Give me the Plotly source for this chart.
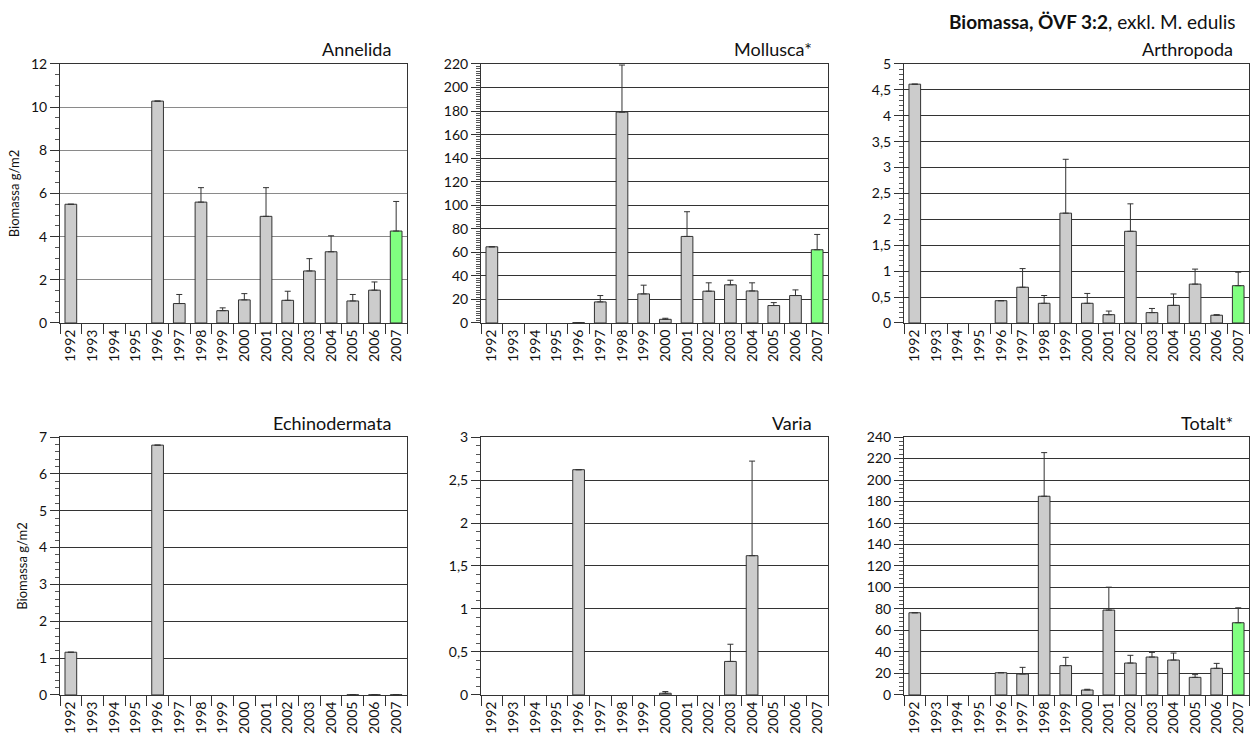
import plotly.graph_objects as go

years = [str(y) for y in range(1992, 2008)]

annelida = [5.50, None, None, None, 10.28, 0.90, 5.60, 0.57, 1.07, 4.94, 1.05, 2.41, 3.30, 1.02, 1.52, 4.26]
annelida_err = [0, 0, 0, 0, 0, 0.42, 0.67, 0.13, 0.29, 1.33, 0.42, 0.57, 0.74, 0.30, 0.38, 1.37]

mollusca = [64.7, None, None, None, 0.3, 17.9, 179.1, 24.7, 3.1, 73.5, 27.0, 32.4, 27.2, 14.8, 23.3, 62.2]
mollusca_err = [0, 0, 0, 0, 0, 5.4, 40.0, 7.4, 0.9, 21.0, 7.1, 3.9, 6.9, 2.5, 4.8, 13.0]

arthropoda = [4.61, None, None, None, 0.43, 0.69, 0.38, 2.12, 0.38, 0.16, 1.77, 0.20, 0.34, 0.75, 0.15, 0.72]
arthropoda_err = [0, 0, 0, 0, 0, 0.36, 0.15, 1.04, 0.19, 0.07, 0.53, 0.08, 0.22, 0.29, 0.01, 0.26]

echinodermata = [1.16, None, None, None, 6.78, None, None, None, None, None, None, None, None, 0.005, 0.005, 0.005]
echinodermata_err = [0, 0, 0, 0, 0, 0, 0, 0, 0, 0, 0, 0, 0, 0.005, 0.005, 0.005]

varia = [None, None, None, None, 2.62, None, None, None, 0.02, None, None, 0.39, 1.62, None, None, None]
varia_err = [0, 0, 0, 0, 0, 0, 0, 0, 0.02, 0, 0, 0.20, 1.10, 0, 0, 0]

totalt = [76.5, None, None, None, 20.7, 19.5, 184.9, 27.3, 4.6, 79.0, 29.7, 35.3, 32.5, 16.4, 24.8, 67.2]
totalt_err = [0, 0, 0, 0, 0, 6.2, 40.6, 7.7, 0.7, 21.3, 7.2, 4.3, 6.5, 2.5, 4.6, 13.9]

panels = [
    # title, values, err, ymax, dtick, minor dtick, x-domain, y-domain, ylabel
    ("Annelida", annelida, annelida_err, 12, 2, 0.5, (0.048, 0.3256), (0.5659, 0.914), True),
    ("Mollusca*", mollusca, mollusca_err, 220, 20, 2, (0.3848, 0.6624), (0.5659, 0.914), False),
    ("Arthropoda", arthropoda, arthropoda_err, 5, 0.5, 0.1, (0.7232, 0.9992), (0.5659, 0.914), False),
    ("Echinodermata", echinodermata, echinodermata_err, 7, 1, 0.2, (0.048, 0.3256), (0.0659, 0.4126), True),
    ("Varia", varia, varia_err, 3, 0.5, 0.1, (0.3848, 0.6624), (0.0659, 0.4126), False),
    ("Totalt*", totalt, totalt_err, 240, 20, 4, (0.7232, 0.9992), (0.0659, 0.4126), False),
]

FONT = "Lato, 'Open Sans', sans-serif"
colors = ["#cccccc"] * 15 + ["#80ff80"]

fig = go.Figure()
annotations = []
for i, (title, vals, err, ymax, dt, mdt, xd, yd, ylab) in enumerate(panels):
    n = i + 1
    xa = "x" if n == 1 else f"x{n}"
    ya = "y" if n == 1 else f"y{n}"
    fig.add_trace(go.Bar(
        x=years, y=vals, xaxis=xa, yaxis=ya,
        marker=dict(color=colors, line=dict(color="#333333", width=1)),
        error_y=dict(type="data", array=err, arrayminus=[0] * len(err), symmetric=False,
                     color="#333333", thickness=1, width=3),
        showlegend=False, hoverinfo="x+y",
    ))
    gridc = "#8a8a8a" if n == 1 else "#333333"
    xkey = "xaxis" if n == 1 else f"xaxis{n}"
    ykey = "yaxis" if n == 1 else f"yaxis{n}"
    fig.update_layout({
        xkey: dict(domain=list(xd), anchor=ya, type="category", tickangle=-90, automargin=False,
                   ticks="outside", tickson="boundaries", ticklen=10, tickcolor="#333333",
                   showline=True, linecolor="#333333", linewidth=1, mirror=True,
                   showgrid=False, tickfont=dict(size=14, color="#111111", family=FONT)),
        ykey: dict(domain=list(yd), anchor=xa, range=[0, ymax], dtick=dt, tick0=0, automargin=False,
                   ticks="outside", ticklen=9, tickcolor="#333333",
                   showline=True, linecolor="#333333", linewidth=1, mirror=True,
                   showgrid=True, gridcolor=gridc, gridwidth=1, zeroline=False,
                   minor=dict(dtick=mdt, ticks="outside", ticklen=4, tickcolor="#555555", showgrid=False),
                   tickfont=dict(size=14, color="#111111", family=FONT),
                   title=dict(text="Biomassa g/m2" if ylab else "", font=dict(size=13, family=FONT, color="#111111"), standoff=8)),
    })
    annotations.append(dict(text=title, xref="paper", yref="paper", x=xd[1] - 0.011, y=yd[1] + 0.002,
                            xanchor="right", yanchor="bottom", showarrow=False,
                            font=dict(size=18, family=FONT, color="#111111")))

annotations.append(dict(text="<b>Biomassa, ÖVF 3:2</b>, exkl. M. edulis", xref="paper", yref="paper",
                        x=0.99, y=0.953, xanchor="right", yanchor="bottom", showarrow=False,
                        font=dict(size=19, family=FONT, color="#111111")))

fig.update_layout(
    width=1250, height=744, margin=dict(l=0, r=0, t=0, b=0),
    plot_bgcolor="white", paper_bgcolor="white",
    bargap=0.46, separators=", ",
    annotations=annotations,
    font=dict(family=FONT, color="#111111"),
)

fig.write_html("out.html", config={"displayModeBar": False},
               post_script="document.body.style.margin='0';document.body.style.overflow='hidden';")
